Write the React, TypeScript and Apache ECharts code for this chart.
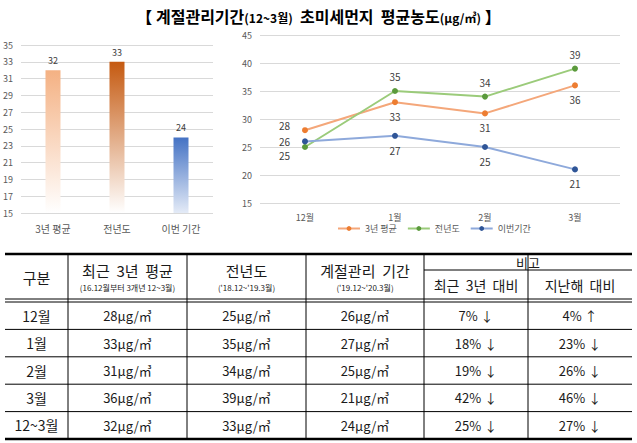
import React, { useEffect, useRef } from "react";
import * as echarts from "echarts";

const barCats = ["3년 평균", "전년도", "이번 기간"];
const barVals = [32, 33, 24];
const barTicks = [15, 35, 2];

const months = ["12월", "1월", "2월", "3월"];
const avg3 = [28, 33, 31, 36];
const prevYear = [25, 35, 34, 39];
const current = [26, 27, 25, 21];

const rowLabels = ["12월", "1월", "2월", "3월", "12~3월"];
const colAvg3 = [28, 33, 31, 36, 32];
const colPrev = [25, 35, 34, 39, 33];
const colCur = [26, 27, 25, 21, 24];
const colVs3 = ["7% ↓", "18% ↓", "19% ↓", "42% ↓", "25% ↓"];
const colVsLast = ["4% ↑", "23% ↓", "26% ↓", "46% ↓", "27% ↓"];

const FONT = '"Noto Sans CJK KR", "Noto Sans", sans-serif';

function buildTable() {
  const els: any[] = [];
  const xL = 5, xR = 632;
  const cols = [68, 187, 306, 424, 528];
  const yTop = 254, yHead = 300, rowH = 27.4, yBot = yHead + 2 + rowH * 5;
  const line = (x1: number, y1: number, x2: number, y2: number, w = 1) =>
    els.push({ type: "line", shape: { x1, y1, x2, y2 }, style: { stroke: "#000", lineWidth: w }, silent: true });
  const txt = (x: number, y: number, text: string, size: number, color = "#1a1a1a") =>
    els.push({
      type: "text",
      x, y,
      style: { text, x: 0, y: 0, align: "center", verticalAlign: "middle", fontSize: size, fontFamily: FONT, fill: color },
      silent: true,
    });
  line(xL, yTop, xR, yTop, 2.5);
  line(xL, yHead - 1, xR, yHead - 1, 1);
  line(xL, yHead + 2, xR, yHead + 2, 1);
  for (let i = 1; i < 5; i++) line(xL, yHead + 2 + rowH * i, xR, yHead + 2 + rowH * i, 1);
  line(xL, yBot, xR, yBot, 2.5);
  cols.forEach((c) => line(c, yTop, c, yBot, 1));
  line(cols[3], 270, xR, 270, 1);

  const centers = [(xL + cols[0]) / 2, (cols[0] + cols[1]) / 2, (cols[1] + cols[2]) / 2, (cols[2] + cols[3]) / 2, (cols[3] + cols[4]) / 2, (cols[4] + xR) / 2];
  txt(centers[0], 277, "구분", 15);
  txt(centers[1], 270, "최근  3년  평균", 15);
  txt(centers[1], 287, "(16.12월부터 3개년 12~3월)", 8);
  txt(centers[2], 270, "전년도", 15);
  txt(centers[2], 287, "('18.12~'19.3월)", 8);
  txt(centers[3], 270, "계절관리  기간", 15);
  txt(centers[3], 287, "('19.12~'20.3월)", 8);
  txt((cols[3] + xR) / 2, 262, "비고", 13);
  txt(centers[4], 285, "최근  3년  대비", 14);
  txt(centers[5], 285, "지난해  대비", 14);

  for (let i = 0; i < 5; i++) {
    const cy = yHead + 2 + rowH * i + rowH / 2;
    txt(centers[0], cy, rowLabels[i], 14);
    txt(centers[1], cy, colAvg3[i] + "μg/㎥", 13);
    txt(centers[2], cy, colPrev[i] + "μg/㎥", 13);
    txt(centers[3], cy, colCur[i] + "μg/㎥", 13);
    txt(centers[4], cy, colVs3[i], 13);
    txt(centers[5], cy, colVsLast[i], 13);
  }
  return els;
}

const grad = (top: string, bottom: string) =>
  new echarts.graphic.LinearGradient(0, 0, 0, 1, [
    { offset: 0, color: top },
    { offset: 1, color: bottom },
  ]);

export default function App() {
  const ref = useRef<HTMLDivElement>(null);
  useEffect(() => {
    if (!ref.current) return;
    const chart = echarts.init(ref.current, null, { renderer: "svg" });
    const axisLabel = { color: "#595959", fontSize: 9, fontFamily: FONT };
    const barColors = [grad("#F4B183", "#FFFFFF"), grad("#C55A11", "#FFFFFF"), grad("#4472C4", "#E4EBF7")];
    const baseLabel = {
      show: true,
      fontSize: 10,
      lineHeight: 11,
      color: "#404040",
      fontFamily: FONT,
      distance: 6,
      formatter: (p: any) => String(p.value),
    };
    const mkLine = (name: string, data: number[], lineColor: string, dot: string, positions: string[], firstDy: number) => ({
      type: "line",
      name,
      xAxisIndex: 1,
      yAxisIndex: 1,
      symbol: "circle",
      symbolSize: 6,
      itemStyle: { color: dot },
      lineStyle: { color: lineColor, width: 2 },
      data: data.map((v, i) => ({
        value: v,
        label: {
          ...baseLabel,
          position: positions[i],
          distance: i === 0 ? 12 : 6,
          offset: i === 0 ? [0, firstDy] : [0, 0],
        },
      })),
      label: baseLabel,
    });
    chart.setOption({
      animation: false,
      textStyle: { fontFamily: FONT },
      title: {
        text: "{b|【 계절관리기간}{s|(12~3월)}{b|  초미세먼지  평균농도}{s|(μg/㎥)}{b| 】}",
        left: "center",
        top: 3,
        textStyle: {
          rich: {
            b: { fontSize: 16, fontWeight: "bold", color: "#000", fontFamily: FONT },
            s: { fontSize: 12, color: "#000", fontFamily: FONT, padding: [3, 0, 0, 0] },
          },
        },
      },
      legend: {
        data: ["3년 평균", "전년도", "이번기간"],
        left: 332,
        top: 219,
        itemWidth: 22,
        itemHeight: 6,
        itemGap: 10,
        textStyle: { fontSize: 9, color: "#595959", fontFamily: FONT },
      },
      grid: [
        { left: 18, top: 45, width: 195, height: 168 },
        { left: 260, top: 35, width: 360, height: 168 },
      ],
      xAxis: [
        {
          type: "category",
          gridIndex: 0,
          data: barCats,
          axisLine: { show: false },
          axisTick: { show: false },
          axisLabel: { ...axisLabel, fontSize: 10, margin: 10 },
        },
        {
          type: "category",
          gridIndex: 1,
          data: months,
          axisLine: { show: false },
          axisTick: { show: false },
          axisLabel: { ...axisLabel, margin: 10 },
        },
      ],
      yAxis: [
        {
          type: "value",
          gridIndex: 0,
          min: barTicks[0],
          max: barTicks[1],
          interval: barTicks[2],
          axisLabel: { ...axisLabel, margin: 8 },
          splitLine: { lineStyle: { color: "#D9D9D9" } },
        },
        {
          type: "value",
          gridIndex: 1,
          min: 15,
          max: 45,
          interval: 5,
          axisLabel: { ...axisLabel, margin: 8 },
          splitLine: { lineStyle: { color: "#D9D9D9" } },
        },
      ],
      series: [
        {
          type: "bar",
          xAxisIndex: 0,
          yAxisIndex: 0,
          barWidth: 15,
          data: barVals.map((v, i) => ({ value: v, itemStyle: { color: barColors[i] } })),
          label: { show: true, position: "top", fontSize: 9, color: "#404040", distance: 5 },
        },
        mkLine("3년 평균", avg3, "#F4A77A", "#ED7D31", ["left", "bottom", "bottom", "bottom"], -5),
        mkLine("전년도", prevYear, "#9BCB7A", "#5B9A3C", ["left", "top", "top", "top"], 8),
        mkLine("이번기간", current, "#8EA9DB", "#2F5597", ["left", "bottom", "bottom", "bottom"], 0),
      ],
      graphic: buildTable(),
    });
    return () => chart.dispose();
  }, []);
  return <div ref={ref} style={{ position: "fixed", left: 0, top: 0, width: 637, height: 443, background: "#fff" }} />;
}
